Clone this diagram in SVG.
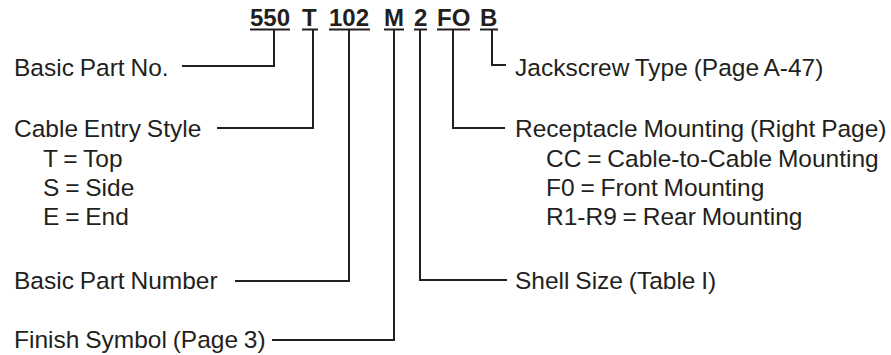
<svg xmlns="http://www.w3.org/2000/svg" width="891" height="355" viewBox="0 0 891 355">
<style>
.t{font-family:"Liberation Sans",Arial,sans-serif;font-size:24.5px;word-spacing:-1px;fill:#231f20}
.h{font-family:"Liberation Sans",Arial,sans-serif;font-size:24px;font-weight:bold;fill:#231f20}
.c{fill:none;stroke:#231f20;stroke-width:2}
</style>
<rect width="891" height="355" fill="#fff"/>
<g id="header">
<text class="h" x="250" y="26">550</text>
<text class="h" x="302" y="26">T</text>
<text class="h" x="329" y="26">102</text>
<text class="h" x="384" y="26">M</text>
<text class="h" x="414" y="26">2</text>
<text class="h" x="437" y="26">FO</text>
<text class="h" x="480" y="26">B</text>
<g class="c">
<line x1="250" y1="29.5" x2="290" y2="29.5"/>
<line x1="302" y1="29.5" x2="318" y2="29.5"/>
<line x1="329" y1="29.5" x2="370" y2="29.5"/>
<line x1="384" y1="29.5" x2="404" y2="29.5"/>
<line x1="414" y1="29.5" x2="427" y2="29.5"/>
<line x1="437" y1="29.5" x2="470" y2="29.5"/>
<line x1="480" y1="29.5" x2="498" y2="29.5"/>
</g>
</g>
<g id="connectors" class="c">
<polyline points="274,30 274,66 182,66"/>
<polyline points="313,30 313,128 217,128"/>
<polyline points="349,30 349,281 235,281"/>
<polyline points="394,30 394,340 272,340"/>
<polyline points="420,30 420,280 507,280"/>
<polyline points="453,30 453,128 505,128"/>
<polyline points="492,30 492,65 506,65"/>
</g>
<g id="basic-part-no"><text class="t" x="14" y="76">Basic Part No.</text></g>
<g id="cable-entry-style">
<text class="t" x="14" y="137">Cable Entry Style</text>
<text class="t" x="43" y="167">T = Top</text>
<text class="t" x="43" y="196">S = Side</text>
<text class="t" x="43" y="225">E = End</text>
</g>
<g id="basic-part-number"><text class="t" x="14" y="289">Basic Part Number</text></g>
<g id="finish-symbol"><text class="t" x="14" y="348">Finish Symbol (Page 3)</text></g>
<g id="jackscrew-type"><text class="t" x="515" y="76">Jackscrew Type (Page A-47)</text></g>
<g id="receptacle-mounting">
<text class="t" x="515" y="137">Receptacle Mounting (Right Page)</text>
<text class="t" x="546" y="167">CC = Cable-to-Cable Mounting</text>
<text class="t" x="546" y="196">F0 = Front Mounting</text>
<text class="t" x="546" y="225">R1-R9 = Rear Mounting</text>
</g>
<g id="shell-size"><text class="t" x="515" y="289">Shell Size (Table I)</text></g>
</svg>
